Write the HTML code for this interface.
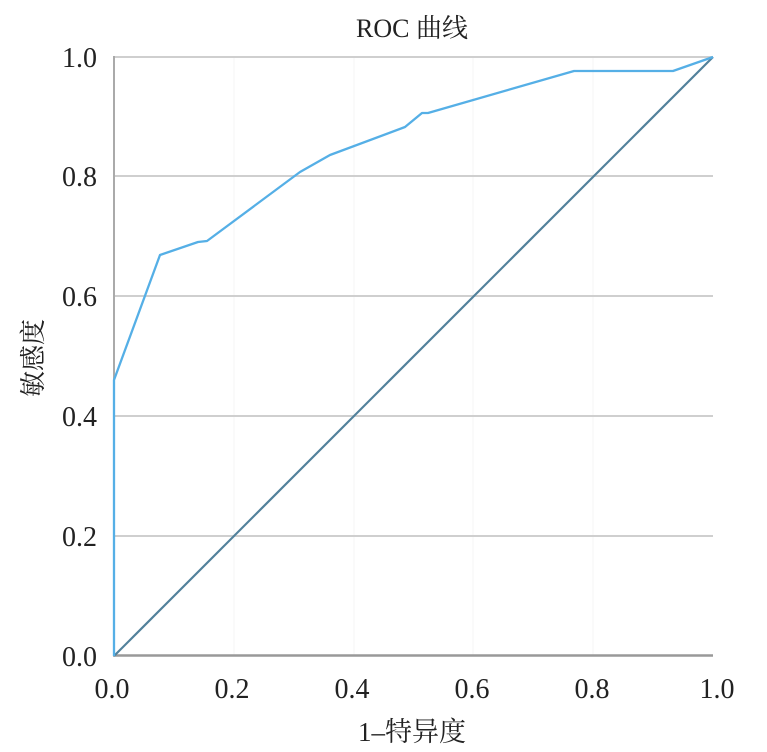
<!DOCTYPE html>
<html>
<head>
<meta charset="utf-8">
<style>
html,body{margin:0;padding:0;background:#fff;}
svg{display:block;}
</style>
</head>
<body>
<svg width="767" height="752" viewBox="0 0 767 752" xmlns="http://www.w3.org/2000/svg">
  <rect x="0" y="0" width="767" height="752" fill="#fff"/>
  <!-- faint vertical grid -->
  <g stroke="#f4f4f4" stroke-width="1">
    <line x1="234" y1="57" x2="234" y2="656"/>
    <line x1="354" y1="57" x2="354" y2="656"/>
    <line x1="473" y1="57" x2="473" y2="656"/>
    <line x1="593" y1="57" x2="593" y2="656"/>
  </g>
  <!-- horizontal gridlines -->
  <g stroke="#cfcfcf" stroke-width="2">
    <line x1="114" y1="57" x2="713" y2="57"/>
    <line x1="114" y1="176" x2="713" y2="176"/>
    <line x1="114" y1="296" x2="713" y2="296"/>
    <line x1="114" y1="416" x2="713" y2="416"/>
    <line x1="114" y1="536" x2="713" y2="536"/>
  </g>
  <!-- axes -->
  <line x1="114" y1="56" x2="114" y2="656" stroke="#aaaaaa" stroke-width="2"/>
  <line x1="113" y1="655.5" x2="713" y2="655.5" stroke="#999999" stroke-width="2.5"/>
  <!-- diagonal -->
  <line x1="114" y1="656" x2="713" y2="57" stroke="#52819b" stroke-width="2.2"/>
  <!-- ROC curve -->
  <polyline fill="none" stroke="#55afe6" stroke-width="2.3" stroke-linejoin="round"
    points="114,656 114,380 160,255 198,242 207,241 300,172 330,155 405,127 422,113 428,113 574,71 673,71 713,57"/>
  <!-- y tick labels -->
  <g font-family="'Liberation Serif', serif" font-size="28" fill="#222" text-anchor="end">
    <text x="97" y="67">1.0</text>
    <text x="97" y="186">0.8</text>
    <text x="97" y="306">0.6</text>
    <text x="97" y="426">0.4</text>
    <text x="97" y="546">0.2</text>
    <text x="97" y="666">0.0</text>
  </g>
  <!-- x tick labels -->
  <g font-family="'Liberation Serif', serif" font-size="28" fill="#222" text-anchor="middle">
    <text x="112" y="698">0.0</text>
    <text x="232" y="698">0.2</text>
    <text x="352" y="698">0.4</text>
    <text x="472" y="698">0.6</text>
    <text x="592" y="698">0.8</text>
    <text x="717" y="698">1.0</text>
  </g>
  <!-- title -->
  <text x="412" y="37" font-family="'Liberation Serif', 'Noto Serif CJK SC', serif" font-size="26" fill="#222" text-anchor="middle">ROC 曲线</text>
  <!-- x label -->
  <text x="412" y="741" font-family="'Liberation Serif', 'Noto Serif CJK SC', serif" font-size="27" fill="#222" text-anchor="middle">1–特异度</text>
  <!-- y label -->
  <text x="0" y="0" transform="translate(42,358) rotate(-90)" font-family="'Liberation Serif', 'Noto Serif CJK SC', serif" font-size="26" fill="#222" text-anchor="middle">敏感度</text>
</svg>
</body>
</html>
